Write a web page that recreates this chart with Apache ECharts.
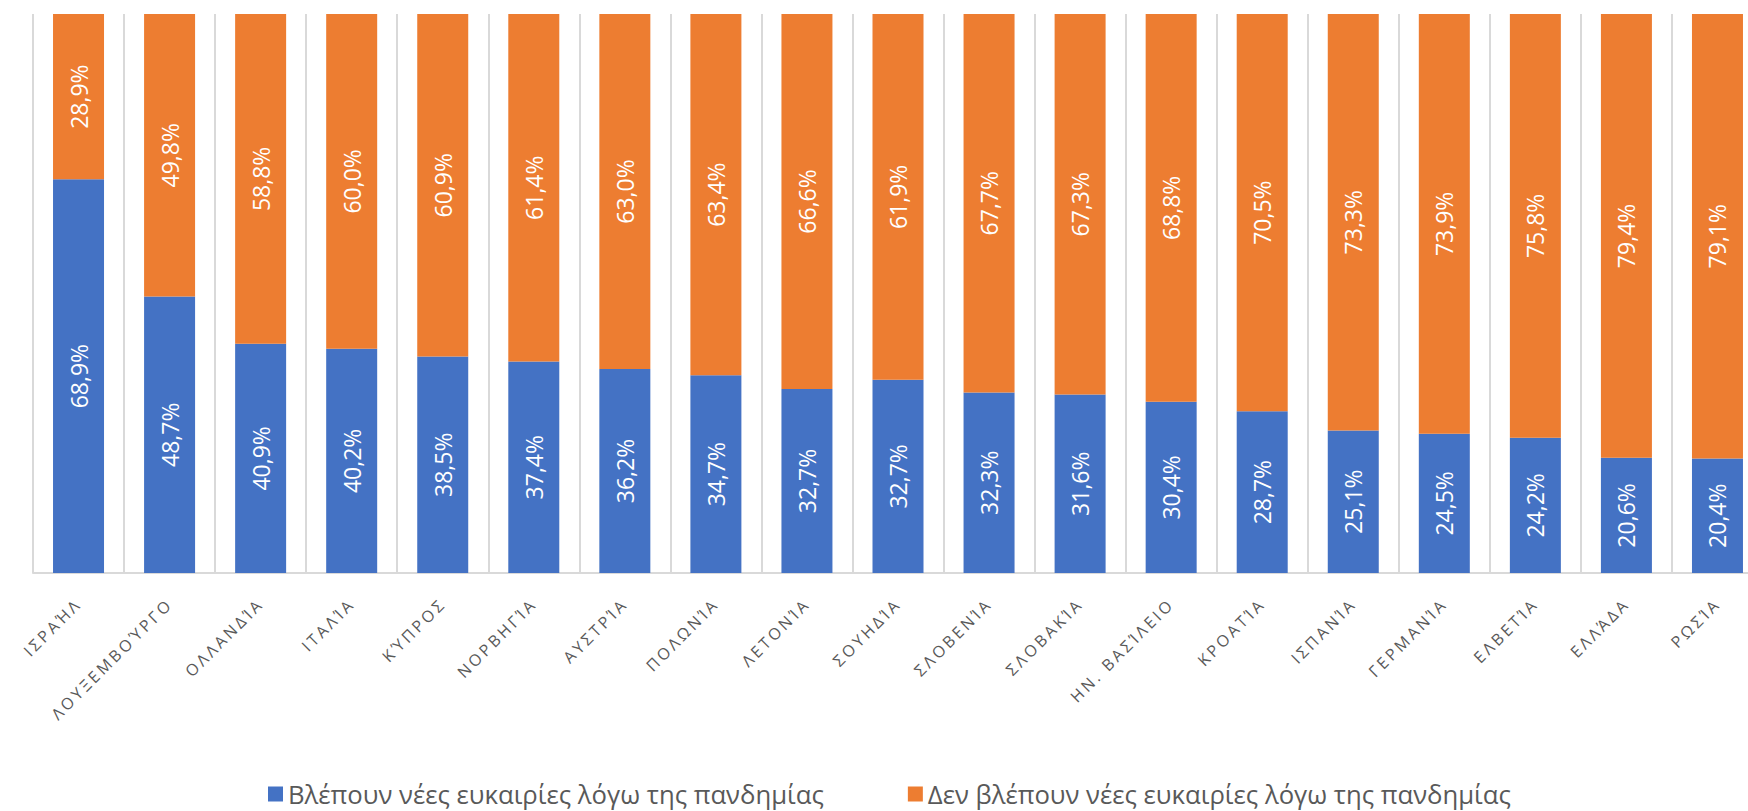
<!DOCTYPE html>
<html>
<head>
<meta charset="utf-8">
<script src="https://cdn.jsdelivr.net/npm/echarts@6/dist/echarts.min.js"></script>
<style>html,body{margin:0;padding:0;background:#fff;overflow:hidden}#c{width:1770px;height:811px}</style>
</head>
<body>
<div id="c"></div>
<script>
const categories = ['ΙΣΡΑΉΛ','ΛΟΥΞΕΜΒΟΎΡΓΟ','ΟΛΛΑΝΔΊΑ','ΙΤΑΛΊΑ','ΚΎΠΡΟΣ','ΝΟΡΒΗΓΊΑ','ΑΥΣΤΡΊΑ','ΠΟΛΩΝΊΑ','ΛΕΤΟΝΊΑ','ΣΟΥΗΔΊΑ','ΣΛΟΒΕΝΊΑ','ΣΛΟΒΑΚΊΑ','ΗΝ. ΒΑΣΊΛΕΙΟ','ΚΡΟΑΤΊΑ','ΙΣΠΑΝΊΑ','ΓΕΡΜΑΝΊΑ','ΕΛΒΕΤΊΑ','ΕΛΛΆΔΑ','ΡΩΣΊΑ'];
const seeNew = [68.9,48.7,40.9,40.2,38.5,37.4,36.2,34.7,32.7,32.7,32.3,31.6,30.4,28.7,25.1,24.5,24.2,20.6,20.4];
const notSeeNew = [28.9,49.8,58.8,60.0,60.9,61.4,63.0,63.4,66.6,61.9,67.7,67.3,68.8,70.5,73.3,73.9,75.8,79.4,79.1];
const seriesNames = ['Βλέπουν νέες ευκαιρίες λόγω της πανδημίας','Δεν βλέπουν νέες ευκαιρίες λόγω της πανδημίας'];

// 100% stacked: share of each row total
const totals = seeNew.map((v, i) => v + notSeeNew[i]);
const share = (arr) => arr.map((v, i) => ({ value: v / totals[i] * 100, raw: v }));
const fmt = (p) => p.data.raw.toFixed(1).replace('.', ',') + '%';

const FONT = '"Open Sans", "Noto Sans", sans-serif';
const el = document.getElementById('c');
const chart = echarts.init(el, null, { renderer: 'svg' });
const labelCfg = { show: true, position: 'inside', rotate: 90, color: '#fff', fontSize: 23, fontFamily: FONT, formatter: fmt };
chart.setOption({
  animation: false,
  color: ['#4472C4', '#ED7D31'],
  grid: { left: 33, top: 14, bottom: 238, right: 7, containLabel: false },
  legend: {
    top: 776, left: 263, itemWidth: 15, itemHeight: 15, itemGap: 84,
    icon: 'rect',
    textStyle: { fontSize: 25.7, color: '#595959', fontFamily: FONT },
    data: seriesNames
  },
  xAxis: {
    type: 'category', data: categories,
    axisLine: { lineStyle: { color: '#d9d9d9', width: 2 } },
    axisTick: { show: false },
    splitLine: { show: true, interval: 0, lineStyle: { color: '#d9d9d9', width: 2 } },
    axisLabel: { interval: 0, rotate: 45, margin: 28, fontSize: 16, color: '#595959', fontFamily: FONT }
  },
  yAxis: { type: 'value', min: 0, max: 100, show: false },
  series: [
    { name: seriesNames[0], type: 'bar', stack: 'total', barWidth: 51, data: share(seeNew), label: labelCfg },
    { name: seriesNames[1], type: 'bar', stack: 'total', barWidth: 51, data: share(notSeeNew), label: labelCfg }
  ]
});
// widen the tracking of the category labels, as in the original
el.querySelectorAll('text').forEach(t => {
  if (categories.includes(t.textContent)) t.setAttribute('letter-spacing', '3px');
});
</script>
</body>
</html>
